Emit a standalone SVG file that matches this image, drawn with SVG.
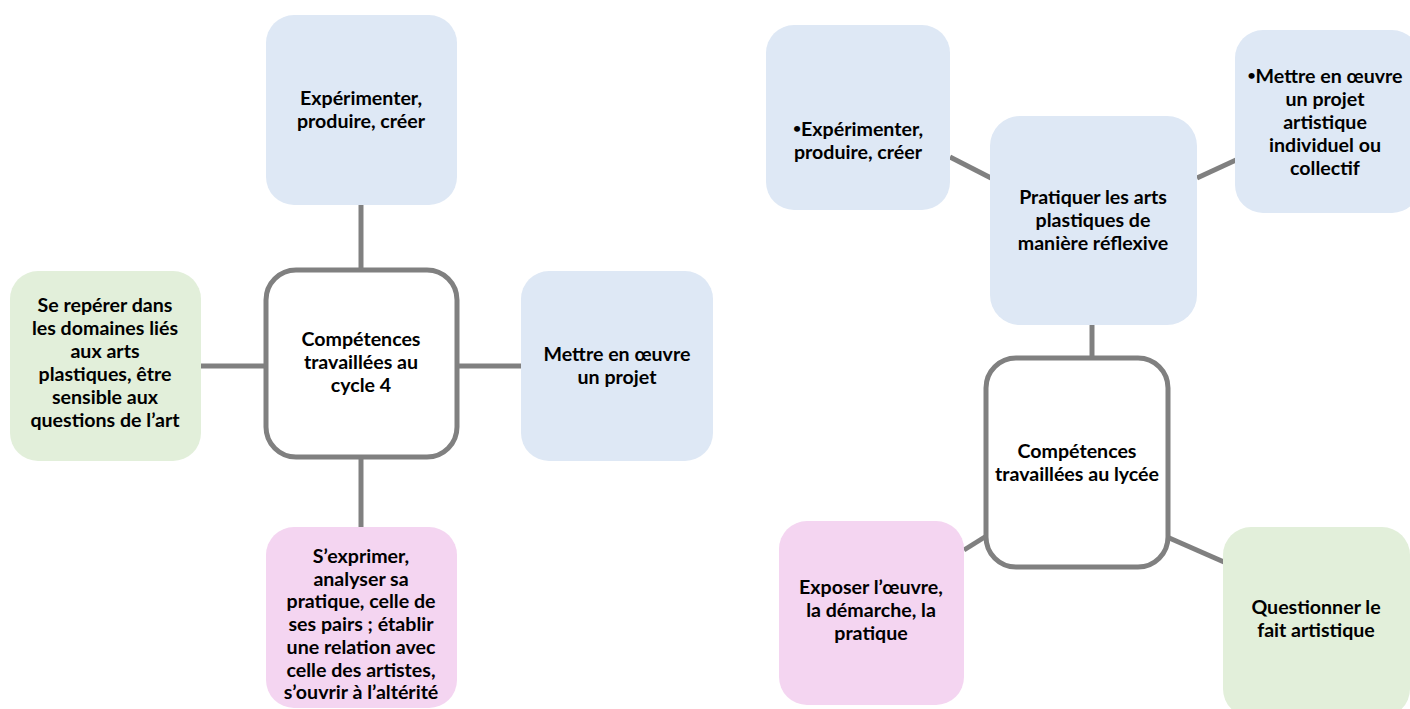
<svg xmlns="http://www.w3.org/2000/svg" width="1410" height="709" viewBox="0 0 1410 709">
<style>
.blue{fill:#dee8f5}
.green{fill:#e2efda}
.pink{fill:#f4d5f1}
.hub{fill:#ffffff;stroke:#808080;stroke-width:5}
.conn{stroke:#808080;stroke-width:5;fill:none}
text{font-family:Lato,"Open Sans","Liberation Sans",sans-serif;font-weight:bold;font-size:19.6px;fill:#000;text-anchor:middle}
.b{font-size:14px}
</style>
<rect width="1410" height="709" fill="#ffffff"/>
<g id="connectors">
<line class="conn" x1="361" y1="205" x2="361" y2="270"/>
<line class="conn" x1="201" y1="366" x2="266" y2="366"/>
<line class="conn" x1="457" y1="366" x2="521" y2="366"/>
<line class="conn" x1="361" y1="457" x2="361" y2="527"/>
<line class="conn" x1="950" y1="157" x2="991" y2="178"/>
<line class="conn" x1="1197" y1="178" x2="1236" y2="160"/>
<line class="conn" x1="1092" y1="325" x2="1092" y2="358"/>
<line class="conn" x1="988" y1="535" x2="964" y2="550"/>
<line class="conn" x1="1167" y1="537" x2="1224" y2="562"/>
</g>
<g id="n-top-left">
<rect class="blue" x="266" y="15" width="191" height="190" rx="28"/>
<text x="361" y="105">Expérimenter,</text>
<text x="361" y="128">produire, créer</text>
</g>
<g id="n-hub-left">
<rect class="hub" x="266" y="270" width="191" height="187" rx="30"/>
<text x="361" y="346">Compétences</text>
<text x="361" y="369">travaillées au</text>
<text x="361" y="392">cycle 4</text>
</g>
<g id="n-left">
<rect class="green" x="10" y="271" width="191" height="190" rx="28"/>
<text x="105" y="312">Se repérer dans</text>
<text x="105" y="335">les domaines liés</text>
<text x="105" y="358">aux arts</text>
<text x="105" y="381">plastiques, être</text>
<text x="105" y="404">sensible aux</text>
<text x="105" y="427">questions de l’art</text>
</g>
<g id="n-right">
<rect class="blue" x="521" y="271" width="192" height="190" rx="28"/>
<text x="617" y="361">Mettre en œuvre</text>
<text x="617" y="384">un projet</text>
</g>
<g id="n-bottom">
<rect class="pink" x="266" y="527" width="191" height="181" rx="28"/>
<text x="361" y="563">S’exprimer,</text>
<text x="361" y="586">analyser sa</text>
<text x="361" y="608">pratique, celle de</text>
<text x="361" y="631">ses pairs ; établir</text>
<text x="361" y="654">une relation avec</text>
<text x="361" y="677">celle des artistes,</text>
<text x="361" y="699">s’ouvrir à l’altérité</text>
</g>
<g id="n2-top-left">
<rect class="blue" x="766" y="25" width="184" height="185" rx="28"/>
<text x="858" y="136"><tspan class="b" dy="-3">•</tspan><tspan dy="3">Expérimenter,</tspan></text>
<text x="858" y="159">produire, créer</text>
</g>
<g id="n2-top-right">
<rect class="blue" x="1235" y="30" width="185" height="183" rx="28"/>
<text x="1325" y="83"><tspan class="b" dy="-3">•</tspan><tspan dy="3">Mettre en œuvre</tspan></text>
<text x="1325" y="106">un projet</text>
<text x="1325" y="129">artistique</text>
<text x="1325" y="152">individuel ou</text>
<text x="1325" y="175">collectif</text>
</g>
<g id="n2-middle">
<rect class="blue" x="990" y="116" width="207" height="209" rx="30"/>
<text x="1093" y="204">Pratiquer les arts</text>
<text x="1093" y="227">plastiques de</text>
<text x="1093" y="250">manière réflexive</text>
</g>
<g id="n2-hub">
<rect class="hub" x="986" y="358" width="182" height="209" rx="30"/>
<text x="1077" y="458">Compétences</text>
<text x="1077" y="481">travaillées au lycée</text>
</g>
<g id="n2-bottom-left">
<rect class="pink" x="779" y="521" width="185" height="184" rx="28"/>
<text x="871" y="594">Exposer l’œuvre,</text>
<text x="871" y="617">la démarche, la</text>
<text x="871" y="640">pratique</text>
</g>
<g id="n2-bottom-right">
<rect class="green" x="1223" y="527" width="187" height="190" rx="28"/>
<text x="1316" y="614">Questionner le</text>
<text x="1316" y="637">fait artistique</text>
</g>
</svg>
